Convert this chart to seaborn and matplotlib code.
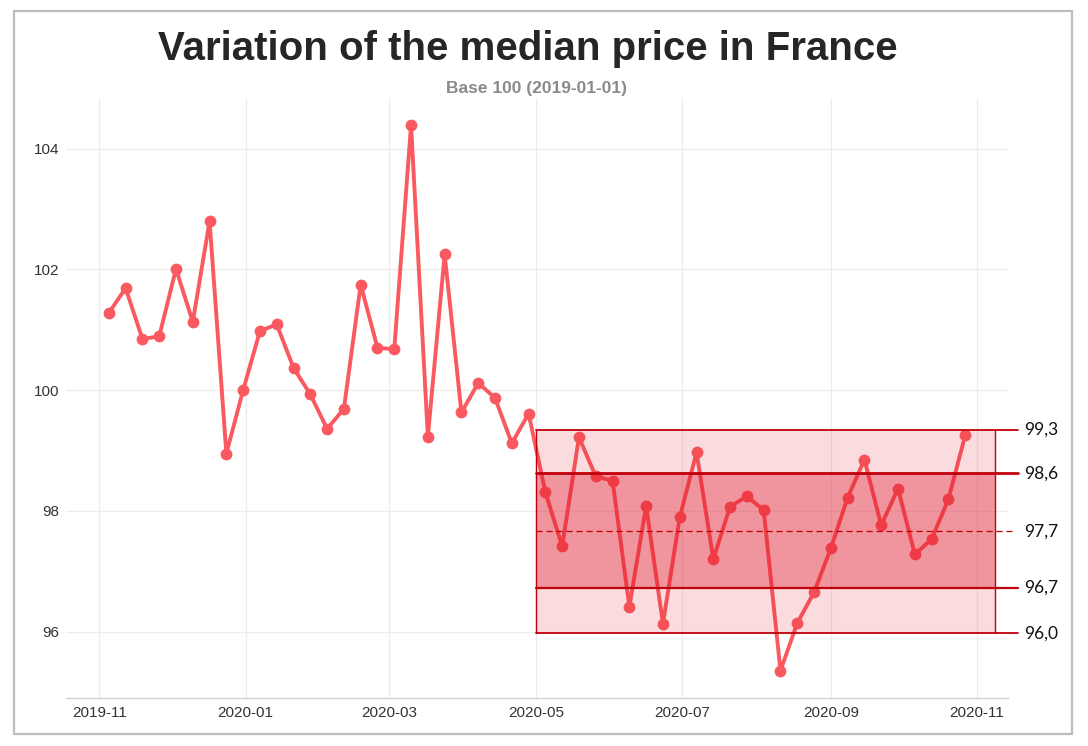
import pandas as pd
import numpy as np
import matplotlib
matplotlib.use("Agg")
import matplotlib.pyplot as plt
import matplotlib.dates as mdates
from matplotlib.patches import Rectangle
import seaborn as sns

# ---------------- data ----------------
start_date = "2019-11-05"
n_weeks = 52
median_index = [
    101.28, 101.69, 100.85, 100.89, 102.01, 101.13, 102.80, 98.95, 100.00, 100.98,
    101.09, 100.37, 99.93, 99.36, 99.69, 101.75, 100.70, 100.68, 104.39, 99.23,
    102.25, 99.63, 100.12, 99.87, 99.12, 99.61, 98.31, 97.41, 99.22, 98.57,
    98.50, 96.41, 98.08, 96.13, 97.89, 98.97, 97.20, 98.07, 98.24, 98.01,
    95.35, 96.14, 96.65, 97.38, 98.22, 98.85, 97.76, 98.37, 97.28, 97.53,
    98.19, 99.25,
]
band_levels = [95.97, 96.72, 97.66, 98.62, 99.34]   # low, q1, median, q3, high
band_start = "2020-05-01"
title = "Variation of the median price in France"
subtitle = "Base 100 (2019-01-01)"

dates = pd.date_range(start_date, periods=n_weeks, freq="7D")
df = pd.DataFrame({"date": dates, "value": median_index})

# ---------------- style ----------------
sns.set_theme(style="whitegrid")
plt.rcParams["font.family"] = ["Liberation Sans", "DejaVu Sans"]

W, H = 1088, 746
fig = plt.figure(figsize=(W / 100, H / 100), dpi=100)
ax = fig.add_axes([66 / W, 1 - 698 / H, (1008 - 66) / W, (698 - 98) / H])

line_color = "#FA5A5F"
band_red = "#E0182A"
dark_red = "#C0000A"

sns.lineplot(data=df, x="date", y="value", ax=ax, color=line_color,
             linewidth=2.8, marker="o", markersize=8.5, markeredgewidth=0,
             zorder=3)

# band geometry
b0 = pd.Timestamp(band_start)
b1 = pd.Timestamp("2020-11-08 15:00")
line_end = pd.Timestamp("2020-11-17 20:00")
dash_end = pd.Timestamp("2020-11-15 16:00")
text_x = pd.Timestamp("2020-11-20 12:00")

lo, q1, med, q3, hi = band_levels
ax.fill_between([b0, b1], lo, hi, color=band_red, alpha=0.15, linewidth=0, zorder=4)
ax.fill_between([b0, b1], q1, q3, color=band_red, alpha=0.36, linewidth=0, zorder=4)
ax.plot([b0, b0], [lo, hi], color=dark_red, lw=1.0, zorder=5)
ax.plot([b1, b1], [lo, hi], color=dark_red, lw=1.0, zorder=5)
for lvl, lw in [(lo, 1.3), (q1, 1.6), (q3, 2.0), (hi, 1.3)]:
    ax.plot([b0, line_end], [lvl, lvl], color=dark_red, lw=lw, zorder=5, clip_on=False)
ax.plot([b0, dash_end], [med, med], color=dark_red, lw=0.9, ls=(0, (5, 3)),
        zorder=5, clip_on=False)
for lvl in band_levels:
    ax.text(text_x, lvl, f"{lvl:.1f}".replace(".", ","), ha="left", va="center",
            fontsize=12.5, family=["Lato", "DejaVu Sans"], color="#111111",
            clip_on=False)

# axes
ax.set_xlim(dates[0] - pd.Timedelta(days=17.85), dates[-1] + pd.Timedelta(days=17.85))
ax.xaxis.set_major_locator(mdates.MonthLocator(bymonth=[1, 3, 5, 7, 9, 11]))
ax.xaxis.set_major_formatter(mdates.DateFormatter("%Y-%m"))
ax.set_yticks([96, 98, 100, 102, 104])
ax.set_xlabel("")
ax.set_ylabel("")
ax.grid(True, color="#ececec", linewidth=0.9)
for s in ["left", "right", "top"]:
    ax.spines[s].set_visible(False)
ax.spines["bottom"].set_color("#d0d0d0")
ax.spines["bottom"].set_linewidth(1.0)
ax.tick_params(axis="both", length=0, labelsize=11, labelcolor="#333333")
ax.tick_params(axis="x", pad=6)
ax.tick_params(axis="y", pad=5)

# titles
fig.text(528 / W, 1 - 60 / H, title, ha="center", va="baseline",
         fontsize=29, fontweight="bold", color="#262626")
fig.text(537 / W, 1 - 93 / H, subtitle, ha="center", va="baseline",
         fontsize=12.5, fontweight="bold", color="#8a8a8a")

# outer frame
fig.patches.append(Rectangle((14 / W, 1 - 734 / H), 1058 / W, 723 / H,
                             transform=fig.transFigure, fill=False,
                             edgecolor="#bdbdbd", linewidth=1.6))

fig.savefig("out.png", dpi=100)
